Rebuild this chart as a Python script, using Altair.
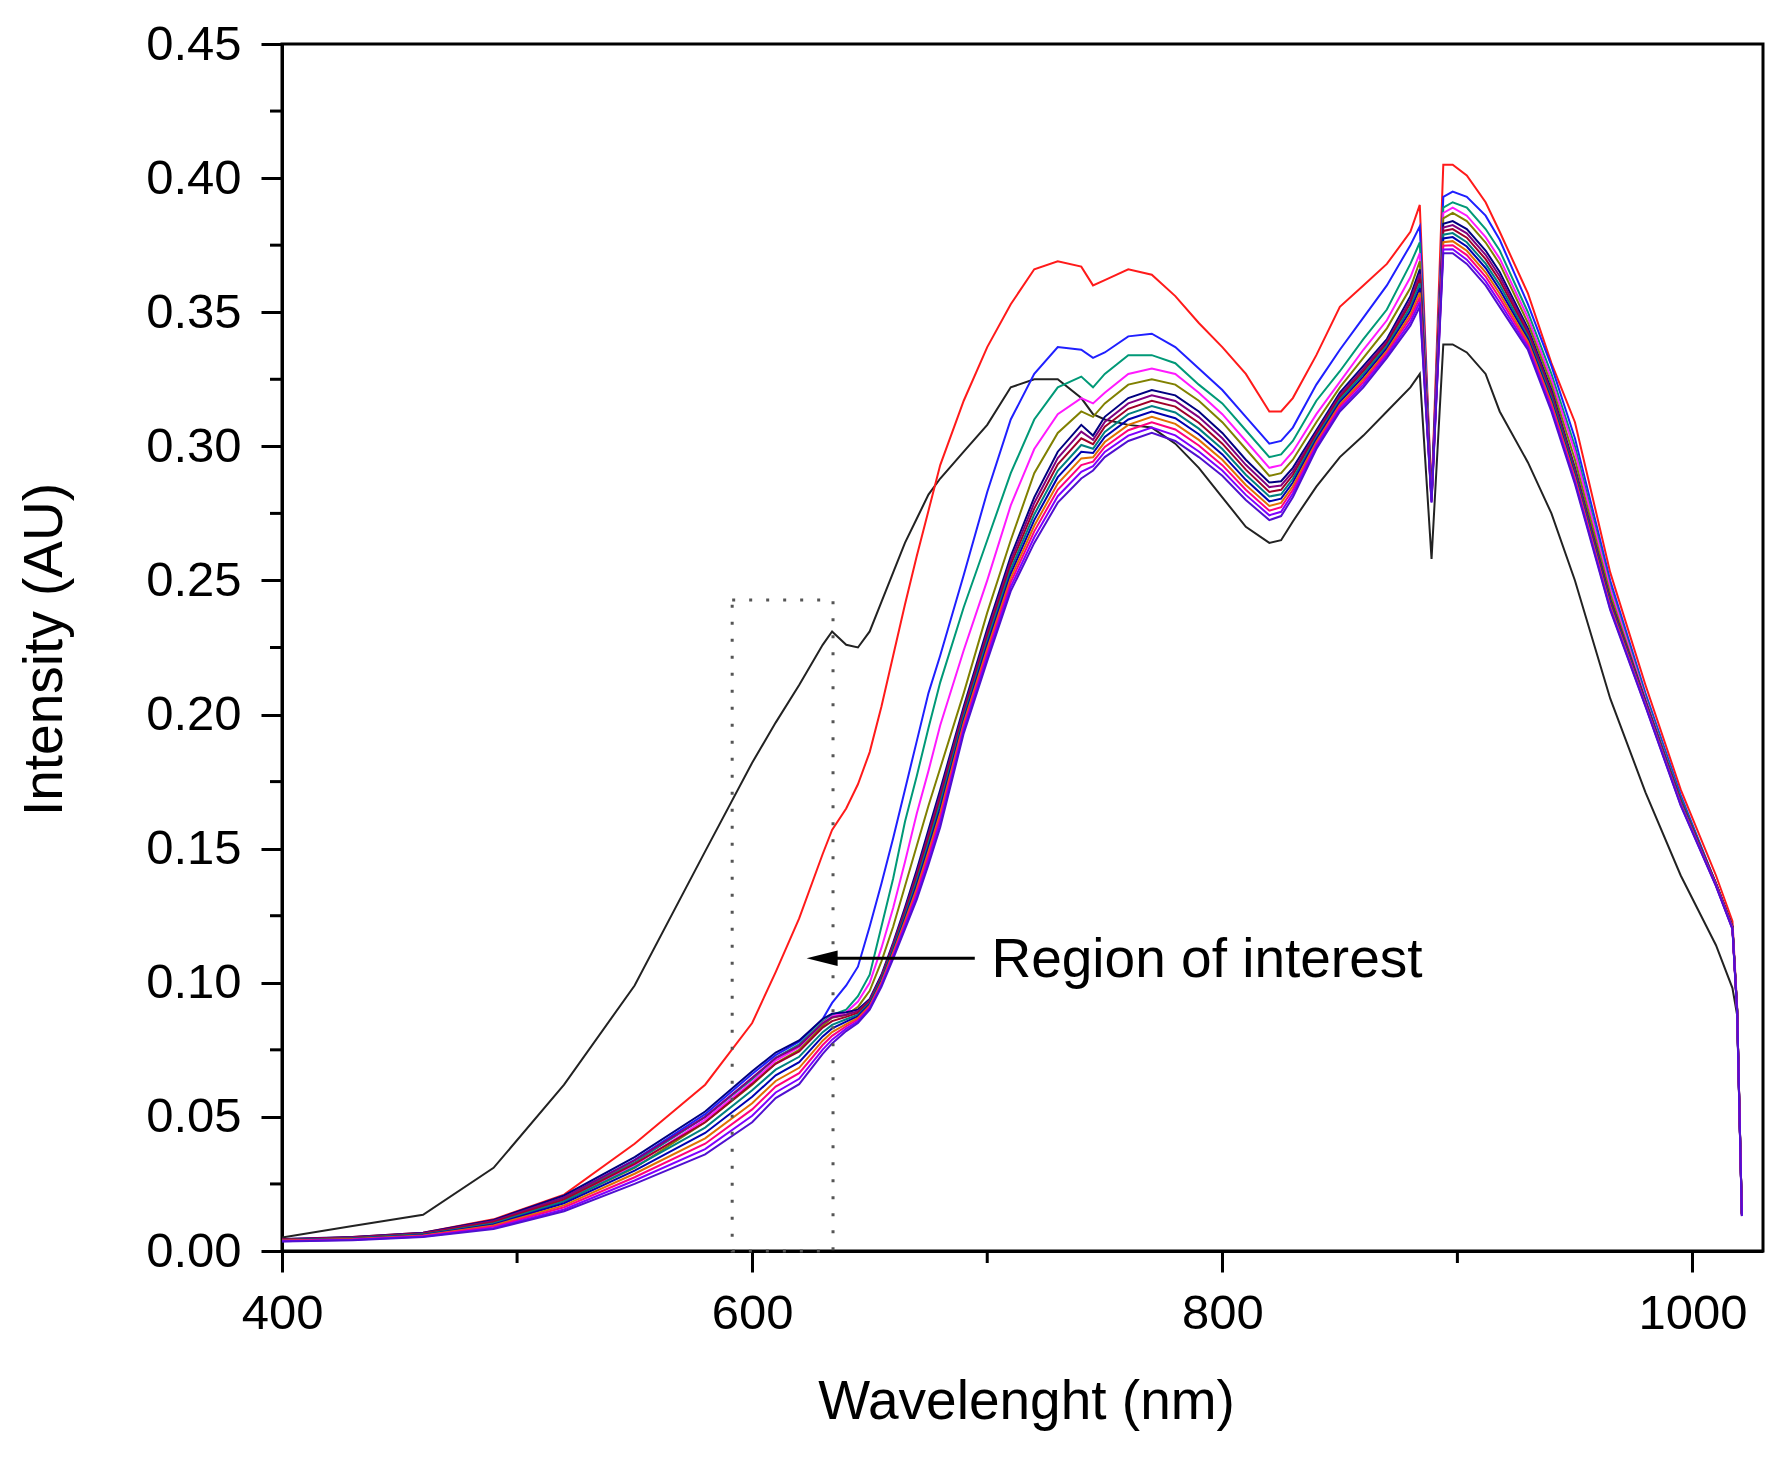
import altair as alt
import pandas as pd

# wavelength grid (nm) shared by all spectra
WAVELENGTH = [400, 430, 460, 490, 520, 550, 580, 600, 610, 620, 630, 634, 640, 645, 650, 655, 660, 665, 670, 675,
              680, 690, 700, 710, 720, 730, 740, 745, 750, 760, 770, 780, 790, 800, 810, 820, 825, 830, 840, 850,
              860, 870, 880, 884, 889, 894, 898, 904, 912, 918, 930, 940, 950, 965, 980, 995, 1010, 1017, 1019, 1021]

# spectra (intensity, AU)
SPEC_BLACK = [0.005, 0.0093, 0.0135, 0.031, 0.062, 0.099, 0.149, 0.182, 0.197, 0.211, 0.226, 0.231, 0.226, 0.225,
              0.231, 0.242, 0.253, 0.264, 0.273, 0.282, 0.288, 0.298, 0.308, 0.322, 0.325, 0.325, 0.318, 0.312,
              0.310, 0.308, 0.307, 0.301, 0.292, 0.281, 0.270, 0.264, 0.265, 0.272, 0.285, 0.296, 0.304, 0.313,
              0.322, 0.327, 0.258, 0.338, 0.338, 0.335, 0.327, 0.313, 0.294, 0.275, 0.250, 0.206, 0.171, 0.140,
              0.114, 0.098, 0.088, 0.014]
SPEC_RED = [0.004, 0.0052, 0.0068, 0.0118, 0.021, 0.040, 0.062, 0.085, 0.104, 0.124, 0.148, 0.157, 0.165, 0.174,
            0.186, 0.203, 0.222, 0.241, 0.259, 0.276, 0.293, 0.317, 0.337, 0.353, 0.366, 0.369, 0.367, 0.360,
            0.362, 0.366, 0.364, 0.356, 0.346, 0.337, 0.327, 0.313, 0.313, 0.318, 0.334, 0.352, 0.360, 0.368,
            0.380, 0.390, 0.282, 0.405, 0.405, 0.401, 0.391, 0.380, 0.357, 0.331, 0.309, 0.253, 0.211, 0.172,
            0.140, 0.123, 0.091, 0.014]
SPEC_BLUE = [0.004, 0.005, 0.0065, 0.0112, 0.020, 0.034, 0.051, 0.066, 0.073, 0.078, 0.0865, 0.0925, 0.099, 0.106,
             0.121, 0.137, 0.154, 0.172, 0.190, 0.208, 0.222, 0.252, 0.283, 0.310, 0.327, 0.337, 0.336, 0.333,
             0.335, 0.341, 0.342, 0.337, 0.329, 0.321, 0.311, 0.301, 0.302, 0.307, 0.323, 0.336, 0.348, 0.360,
             0.375, 0.382, 0.281, 0.393, 0.395, 0.393, 0.386, 0.377, 0.353, 0.330, 0.303, 0.250, 0.208, 0.170,
             0.137, 0.121, 0.090, 0.014]
SPEC_TEAL = [0.004, 0.005, 0.0064, 0.011, 0.0195, 0.033, 0.050, 0.064, 0.072, 0.077, 0.0855, 0.088, 0.090, 0.095,
             0.103, 0.121, 0.139, 0.160, 0.177, 0.195, 0.212, 0.240, 0.265, 0.290, 0.310, 0.322, 0.326, 0.322,
             0.327, 0.334, 0.334, 0.331, 0.323, 0.316, 0.306, 0.296, 0.297, 0.302, 0.317, 0.328, 0.340, 0.351,
             0.368, 0.376, 0.281, 0.389, 0.391, 0.389, 0.381, 0.373, 0.350, 0.327, 0.300, 0.248, 0.207, 0.169,
             0.137, 0.121, 0.090, 0.014]
SPEC_MAGENTA = [0.004, 0.005, 0.0063, 0.0108, 0.019, 0.032, 0.049, 0.063, 0.071, 0.076, 0.085, 0.0875, 0.089,
                0.093, 0.100, 0.113, 0.128, 0.145, 0.163, 0.179, 0.196, 0.224, 0.250, 0.278, 0.299, 0.312, 0.318,
                0.316, 0.320, 0.327, 0.329, 0.327, 0.320, 0.312, 0.302, 0.292, 0.293, 0.298, 0.312, 0.324, 0.336,
                0.347, 0.363, 0.372, 0.281, 0.387, 0.389, 0.386, 0.378, 0.370, 0.348, 0.325, 0.298, 0.247, 0.206,
                0.168, 0.137, 0.121, 0.090, 0.014]
SPEC_OLIVE = [0.004, 0.005, 0.0062, 0.0106, 0.0185, 0.031, 0.048, 0.062, 0.070, 0.075, 0.084, 0.087, 0.088, 0.091,
              0.097, 0.108, 0.121, 0.136, 0.151, 0.166, 0.180, 0.208, 0.238, 0.265, 0.290, 0.305, 0.313, 0.311,
              0.316, 0.323, 0.325, 0.323, 0.317, 0.309, 0.299, 0.289, 0.290, 0.295, 0.309, 0.322, 0.333, 0.344,
              0.359, 0.369, 0.281, 0.385, 0.387, 0.384, 0.376, 0.368, 0.346, 0.323, 0.295, 0.245, 0.205, 0.168,
              0.137, 0.121, 0.090, 0.014]

# the dense bundle of remaining spectra, top to bottom
BUNDLE_1 = [0.0045, 0.0052, 0.0068, 0.0116, 0.0207, 0.0350, 0.0520, 0.0670, 0.0740, 0.0785, 0.0865, 0.0885, 0.0890,
            0.0900, 0.0940, 0.1030, 0.1150, 0.1280, 0.1420, 0.1570, 0.1720, 0.2030, 0.2320, 0.2590, 0.2810, 0.2980,
            0.3080, 0.3040, 0.3110, 0.3180, 0.3210, 0.3190, 0.3130, 0.3050, 0.2950, 0.2865, 0.2870, 0.2920, 0.3060,
            0.3200, 0.3300, 0.3400, 0.3560, 0.3660, 0.2810, 0.3830, 0.3840, 0.3810, 0.3730, 0.3650, 0.3440, 0.3210,
            0.2920, 0.2430, 0.2050, 0.1680, 0.1370, 0.1210, 0.0900, 0.0140]
BUNDLE_2 = [0.0044, 0.0051, 0.0066, 0.0112, 0.0200, 0.0338, 0.0500, 0.0646, 0.0719, 0.0765, 0.0849, 0.0871, 0.0881,
            0.0894, 0.0935, 0.1024, 0.1143, 0.1270, 0.1406, 0.1554, 0.1703, 0.2018, 0.2305, 0.2574, 0.2789, 0.2956,
            0.3055, 0.3024, 0.3091, 0.3160, 0.3190, 0.3169, 0.3109, 0.3030, 0.2931, 0.2848, 0.2854, 0.2906, 0.3051,
            0.3191, 0.3290, 0.3391, 0.3546, 0.3643, 0.2808, 0.3816, 0.3825, 0.3794, 0.3714, 0.3634, 0.3430, 0.3200,
            0.2913, 0.2425, 0.2048, 0.1678, 0.1369, 0.1209, 0.0899, 0.0139]
BUNDLE_3 = [0.0043, 0.0049, 0.0064, 0.0108, 0.0192, 0.0325, 0.0480, 0.0623, 0.0698, 0.0744, 0.0833, 0.0857, 0.0873,
            0.0888, 0.0930, 0.1019, 0.1135, 0.1260, 0.1393, 0.1538, 0.1685, 0.2005, 0.2290, 0.2558, 0.2768, 0.2933,
            0.3030, 0.3008, 0.3073, 0.3140, 0.3170, 0.3148, 0.3088, 0.3010, 0.2913, 0.2830, 0.2838, 0.2893, 0.3043,
            0.3183, 0.3280, 0.3383, 0.3533, 0.3625, 0.2805, 0.3803, 0.3810, 0.3778, 0.3698, 0.3618, 0.3420, 0.3190,
            0.2905, 0.2420, 0.2045, 0.1675, 0.1368, 0.1208, 0.0898, 0.0138]
BUNDLE_4 = [0.0041, 0.0048, 0.0062, 0.0103, 0.0185, 0.0313, 0.0460, 0.0599, 0.0676, 0.0724, 0.0816, 0.0843, 0.0864,
            0.0881, 0.0925, 0.1013, 0.1128, 0.1250, 0.1379, 0.1521, 0.1668, 0.1993, 0.2275, 0.2541, 0.2746, 0.2909,
            0.3005, 0.2991, 0.3054, 0.3120, 0.3150, 0.3126, 0.3066, 0.2990, 0.2894, 0.2813, 0.2821, 0.2879, 0.3034,
            0.3174, 0.3270, 0.3374, 0.3519, 0.3608, 0.2803, 0.3789, 0.3795, 0.3761, 0.3681, 0.3601, 0.3410, 0.3180,
            0.2898, 0.2415, 0.2043, 0.1673, 0.1366, 0.1206, 0.0896, 0.0136]
BUNDLE_5 = [0.0040, 0.0046, 0.0060, 0.0099, 0.0178, 0.0300, 0.0440, 0.0575, 0.0655, 0.0704, 0.0800, 0.0830, 0.0855,
            0.0875, 0.0920, 0.1008, 0.1120, 0.1240, 0.1365, 0.1505, 0.1650, 0.1980, 0.2260, 0.2525, 0.2725, 0.2885,
            0.2980, 0.2975, 0.3035, 0.3100, 0.3130, 0.3105, 0.3045, 0.2970, 0.2875, 0.2795, 0.2805, 0.2865, 0.3025,
            0.3165, 0.3260, 0.3365, 0.3505, 0.3590, 0.2800, 0.3775, 0.3780, 0.3745, 0.3665, 0.3585, 0.3400, 0.3170,
            0.2890, 0.2410, 0.2040, 0.1670, 0.1365, 0.1205, 0.0895, 0.0135]
BUNDLE_6 = [0.0039, 0.0045, 0.0058, 0.0095, 0.0170, 0.0288, 0.0420, 0.0551, 0.0634, 0.0683, 0.0784, 0.0816, 0.0846,
            0.0869, 0.0915, 0.1002, 0.1113, 0.1230, 0.1351, 0.1489, 0.1633, 0.1968, 0.2245, 0.2509, 0.2704, 0.2861,
            0.2955, 0.2959, 0.3016, 0.3080, 0.3110, 0.3084, 0.3024, 0.2950, 0.2856, 0.2778, 0.2789, 0.2851, 0.3016,
            0.3156, 0.3250, 0.3356, 0.3491, 0.3573, 0.2798, 0.3761, 0.3765, 0.3729, 0.3649, 0.3569, 0.3390, 0.3160,
            0.2883, 0.2405, 0.2038, 0.1668, 0.1364, 0.1204, 0.0894, 0.0134]
BUNDLE_7 = [0.0038, 0.0043, 0.0056, 0.0091, 0.0163, 0.0275, 0.0400, 0.0528, 0.0613, 0.0663, 0.0768, 0.0802, 0.0838,
            0.0863, 0.0910, 0.0996, 0.1105, 0.1220, 0.1338, 0.1473, 0.1615, 0.1955, 0.2230, 0.2493, 0.2683, 0.2838,
            0.2930, 0.2943, 0.2998, 0.3060, 0.3090, 0.3063, 0.3003, 0.2930, 0.2838, 0.2760, 0.2773, 0.2838, 0.3008,
            0.3148, 0.3240, 0.3348, 0.3478, 0.3555, 0.2795, 0.3748, 0.3750, 0.3713, 0.3633, 0.3553, 0.3380, 0.3150,
            0.2875, 0.2400, 0.2035, 0.1665, 0.1363, 0.1203, 0.0893, 0.0133]
BUNDLE_8 = [0.0036, 0.0042, 0.0054, 0.0086, 0.0155, 0.0263, 0.0380, 0.0504, 0.0591, 0.0642, 0.0751, 0.0788, 0.0829,
            0.0856, 0.0905, 0.0991, 0.1098, 0.1210, 0.1324, 0.1456, 0.1598, 0.1943, 0.2215, 0.2476, 0.2661, 0.2814,
            0.2905, 0.2926, 0.2979, 0.3040, 0.3070, 0.3041, 0.2981, 0.2910, 0.2819, 0.2743, 0.2756, 0.2824, 0.2999,
            0.3139, 0.3230, 0.3339, 0.3464, 0.3538, 0.2793, 0.3734, 0.3735, 0.3696, 0.3616, 0.3536, 0.3370, 0.3140,
            0.2868, 0.2395, 0.2033, 0.1663, 0.1361, 0.1201, 0.0891, 0.0131]
BUNDLE_9 = [0.0035, 0.0040, 0.0052, 0.0082, 0.0148, 0.0250, 0.0360, 0.0480, 0.0570, 0.0622, 0.0735, 0.0774, 0.0820,
            0.0850, 0.0900, 0.0985, 0.1090, 0.1200, 0.1310, 0.1440, 0.1580, 0.1930, 0.2200, 0.2460, 0.2640, 0.2790,
            0.2880, 0.2910, 0.2960, 0.3020, 0.3050, 0.3020, 0.2960, 0.2890, 0.2800, 0.2725, 0.2740, 0.2810, 0.2990,
            0.3130, 0.3220, 0.3330, 0.3450, 0.3520, 0.2790, 0.3720, 0.3720, 0.3680, 0.3600, 0.3520, 0.3360, 0.3130,
            0.2860, 0.2390, 0.2030, 0.1660, 0.1360, 0.1200, 0.0890, 0.0130]

# draw order and colours (Origin-like increment list)
SERIES = [
    ("01", SPEC_BLACK, "#222222"),
    ("02", SPEC_RED, "#ff1a1a"),
    ("03", SPEC_BLUE, "#1f1fff"),
    ("04", SPEC_TEAL, "#009977"),
    ("05", SPEC_MAGENTA, "#ff1aff"),
    ("06", SPEC_OLIVE, "#808000"),
    ("07", BUNDLE_1, "#000080"),
    ("08", BUNDLE_2, "#800080"),
    ("09", BUNDLE_3, "#a0002a"),
    ("10", BUNDLE_4, "#008080"),
    ("11", BUNDLE_5, "#0000b0"),
    ("12", BUNDLE_6, "#e07000"),
    ("13", BUNDLE_7, "#ff0080"),
    ("14", BUNDLE_8, "#8000ff"),
    ("15", BUNDLE_9, "#5010d0"),
]

X_MAJOR = [400, 600, 800, 1000]
X_MINOR = [500, 700, 900]
Y_MAJOR = [0.0, 0.05, 0.10, 0.15, 0.20, 0.25, 0.30, 0.35, 0.40, 0.45]
Y_MINOR = [0.025, 0.075, 0.125, 0.175, 0.225, 0.275, 0.325, 0.375, 0.425]

# annotation: dotted region box and arrow with label
BOX = {"x": 591.5, "x2": 634.4, "y": 0.2427, "y2": 0.0}
ARROW_Y = 0.1091
ARROW_TAIL = 694.7
ARROW_BACK = 636.0
ARROW_HEAD_MID = 629.75
LABEL_X = 701.8
LABEL_Y = 0.1023
LABEL_TEXT = "Region of interest"

PLOT_W = 1481
PLOT_H = 1207
FONT = "Liberation Sans"

for name, vals, _ in SERIES:
    assert len(vals) == len(WAVELENGTH), name

rows = []
for name, vals, _ in SERIES:
    for wl, v in zip(WAVELENGTH, vals):
        rows.append({"series": name, "wavelength": wl, "intensity": v})
df = pd.DataFrame(rows)

x_scale = alt.Scale(domain=[400, 1030], nice=False, zero=False)
y_scale = alt.Scale(domain=[0, 0.45], nice=False)

x_axis = alt.Axis(
    values=X_MAJOR, format="d", title="Wavelenght (nm)",
    labelBaseline="alphabetic", labelPadding=56,
    titleBaseline="alphabetic", titleY=167, titleX=744,
)
y_axis = alt.Axis(
    values=Y_MAJOR, format=".2f", title="Intensity (AU)",
    labelPadding=20, titleBaseline="alphabetic", titleX=-221, titleY=605,
)

lines = alt.Chart(df).mark_line(strokeWidth=2, clip=True).encode(
    x=alt.X("wavelength:Q", scale=x_scale, axis=x_axis),
    y=alt.Y("intensity:Q", scale=y_scale, axis=y_axis),
    color=alt.Color(
        "series:N",
        scale=alt.Scale(domain=[s[0] for s in SERIES], range=[s[2] for s in SERIES]),
        legend=None,
    ),
)

box = alt.Chart(pd.DataFrame([BOX])).mark_rect(
    filled=False, stroke="#555555", strokeWidth=3, strokeDash=[3, 14]
).encode(
    x=alt.X("x:Q", scale=x_scale, axis=x_axis),
    x2="x2:Q",
    y=alt.Y("y:Q", scale=y_scale, axis=y_axis),
    y2="y2:Q",
)

arrow_line = alt.Chart(
    pd.DataFrame({"wavelength": [ARROW_BACK], "wl_end": [ARROW_TAIL], "intensity": [ARROW_Y]})
).mark_rule(color="black", strokeWidth=3).encode(
    x=alt.X("wavelength:Q", scale=x_scale, axis=x_axis),
    x2="wl_end:Q",
    y=alt.Y("intensity:Q", scale=y_scale, axis=y_axis),
)

arrow_head = alt.Chart(
    pd.DataFrame({"wavelength": [ARROW_HEAD_MID], "intensity": [ARROW_Y]})
).mark_point(
    shape="M -1 0 L 1 -0.5 L 1 0.5 Z", size=961, filled=True, color="black", opacity=1
).encode(
    x=alt.X("wavelength:Q", scale=x_scale, axis=x_axis),
    y=alt.Y("intensity:Q", scale=y_scale, axis=y_axis),
)

label = alt.Chart(
    pd.DataFrame({"wavelength": [LABEL_X], "intensity": [LABEL_Y], "text": [LABEL_TEXT]})
).mark_text(
    align="left", baseline="alphabetic", font=FONT, fontSize=55, color="black"
).encode(
    x=alt.X("wavelength:Q", scale=x_scale, axis=x_axis),
    y=alt.Y("intensity:Q", scale=y_scale, axis=y_axis),
    text="text:N",
)

# minor ticks (Vega-Lite has no minor tick option)
x_minor = alt.Chart(pd.DataFrame({"wavelength": X_MINOR})).mark_rule(
    color="black", strokeWidth=3
).encode(
    x=alt.X("wavelength:Q", scale=x_scale, axis=x_axis),
    y=alt.value(PLOT_H + 1),
    y2=alt.value(PLOT_H + 12),
)
y_minor = alt.Chart(pd.DataFrame({"intensity": Y_MINOR})).mark_rule(
    color="black", strokeWidth=3
).encode(
    y=alt.Y("intensity:Q", scale=y_scale, axis=y_axis),
    x=alt.value(-1),
    x2=alt.value(-12),
)

chart = (
    alt.layer(lines, box, arrow_line, arrow_head, label, x_minor, y_minor)
    .properties(
        width=PLOT_W,
        height=PLOT_H,
        autosize=alt.AutoSizeParams(type="none"),
        padding={"left": 274, "top": 36, "right": 10, "bottom": 180},
        background="white",
    )
    .configure_view(stroke="black", strokeWidth=3)
    .configure_axis(
        grid=False,
        domainColor="black",
        domainWidth=3,
        tickColor="black",
        tickWidth=3,
        tickSize=21,
        labelFont=FONT,
        labelFontSize=49,
        labelColor="black",
        labelFlush=False,
        labelOverlap=False,
        titleFont=FONT,
        titleFontSize=55,
        titleFontWeight="normal",
        titleColor="black",
    )
)

chart.save("out.html", embed_options={"renderer": "svg", "actions": False})
